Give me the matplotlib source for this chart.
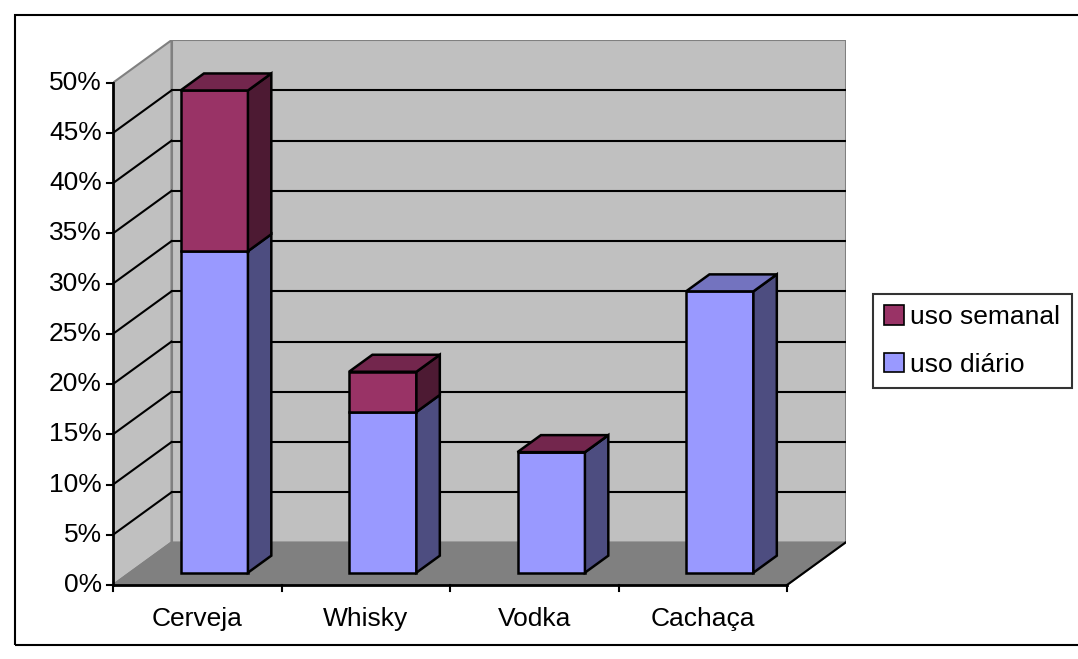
import matplotlib.pyplot as plt
from matplotlib.patches import Polygon, Patch, Rectangle

plt.rcParams['font.family'] = ['Liberation Sans', 'DejaVu Sans']

# Data (percent)
categories = ['Cerveja', 'Whisky', 'Vodka', 'Cachaça']
uso_diario = [32, 16, 12, 28]
uso_semanal = [16, 4, 0, None]
y_ticks = [0, 5, 10, 15, 20, 25, 30, 35, 40, 45, 50]

# colours (Excel-like 3D shading)
blue_front, blue_side, blue_top = '#9999FF', '#4D4D80', '#7373BF'
mar_front, mar_side, mar_top = '#993366', '#4D1A33', '#73264D'

W, H = 1078, 659
fig = plt.figure(figsize=(W / 100, H / 100), dpi=100)
fs = 19

# front plane in pixels: x 113..787 for 4 categories, 0% at y=585, 50% at y=82.7
px_cat = (787 - 113) / 4
px_pct = (585 - 82.7) / 50
depth_px = (58.5, 42.5)
DX = depth_px[0] / px_cat
DY = depth_px[1] / px_pct

left, bottom = 113 / W, (H - 585) / H
ax = fig.add_axes([left, bottom, (4 * px_cat + depth_px[0]) / W, (50 * px_pct + depth_px[1]) / H])
ax.set_xlim(0, 4 + DX)
ax.set_ylim(0, 50 + DY)
ax.axis('off')

ymax = y_ticks[-1]
n = len(categories)

# walls and floor
ax.add_patch(Polygon([(DX, DY), (n + DX, DY), (n + DX, ymax + DY), (DX, ymax + DY)],
                     closed=True, fc='#C0C0C0', ec='#808080', lw=1.5, zorder=1))
ax.add_patch(Polygon([(0, 0), (DX, DY), (DX, ymax + DY), (0, ymax)],
                     closed=True, fc='#C0C0C0', ec='#808080', lw=1.5, zorder=1))
ax.add_patch(Polygon([(0, 0), (n, 0), (n + DX, DY), (DX, DY)],
                     closed=True, fc='#808080', ec='#808080', lw=1.5, zorder=2))
ax.plot([n, n + DX], [0, DY], color='black', lw=1.5, zorder=3)

# gridlines on back wall and side wall
for t in y_ticks[1:-1]:
    ax.plot([DX, n + DX], [t + DY, t + DY], color='black', lw=1.5, zorder=2)
    ax.plot([0, DX], [t, t + DY], color='black', lw=1.5, zorder=2)

# axes lines and ticks
ax.plot([0, 0], [0, ymax], color='black', lw=2, zorder=3, clip_on=False)
ax.plot([0, n], [0, 0], color='black', lw=2, zorder=3, clip_on=False)
tick_x = 6 / px_cat
tick_y = 6 / px_pct
for t in y_ticks:
    ax.plot([-tick_x, 0], [t, t], color='black', lw=1.5, clip_on=False)
    ax.text(-11 / px_cat, t, f'{t}%', ha='right', va='center', fontsize=fs)
for i in range(n + 1):
    ax.plot([i, i], [0, -tick_y], color='black', lw=1.5, clip_on=False)
for i, c in enumerate(categories):
    ax.text(i + 0.5, -22 / px_pct, c, ha='center', va='top', fontsize=fs)

# 3D bars
f0, f1 = 0.29, 0.69
bw = 0.40


def draw_block(xc, y0, y1, front, side, top, with_top):
    xl = xc - bw / 2
    xr = xc + bw / 2
    ax.bar(xc, y1 - y0, width=bw, bottom=y0, color=front, edgecolor='black', lw=1.8, zorder=5)
    d = f1 - f0
    ax.add_patch(Polygon([(xr, y0), (xr + d * DX, y0 + d * DY), (xr + d * DX, y1 + d * DY), (xr, y1)],
                         closed=True, fc=side, ec='black', lw=1.8, zorder=5))
    if with_top:
        ax.add_patch(Polygon([(xl, y1), (xr, y1), (xr + d * DX, y1 + d * DY), (xl + d * DX, y1 + d * DY)],
                             closed=True, fc=top, ec='black', lw=1.8, zorder=5))


for i in range(n):
    xc = i + 0.5 + f0 * DX
    base = f0 * DY
    d = uso_diario[i]
    s = uso_semanal[i]
    draw_block(xc, base, base + d, blue_front, blue_side, blue_top, s is None)
    if s is not None:
        draw_block(xc, base + d, base + d + s, mar_front, mar_side, mar_top, True)

# legend
handles = [Patch(fc=mar_front, ec='black', lw=1.2, label='uso semanal'),
           Patch(fc=blue_front, ec='black', lw=1.2, label='uso diário')]
leg = fig.legend(handles=handles, loc='upper left', bbox_to_anchor=(873 / W, 1 - 294 / H),
                 fontsize=fs, frameon=True, fancybox=False, handlelength=0.75, handleheight=0.75,
                 handletextpad=0.25, labelspacing=0.9, borderpad=0.42, borderaxespad=0)
leg.get_frame().set_edgecolor('black')
leg.get_frame().set_linewidth(1.5)

# outer chart border
fig.patches.append(Rectangle((15 / W, 1 - 645 / H), 1.1, (645 - 15) / H, transform=fig.transFigure,
                             fill=False, ec='black', lw=1.5))

fig.savefig('out.png', dpi=100)
